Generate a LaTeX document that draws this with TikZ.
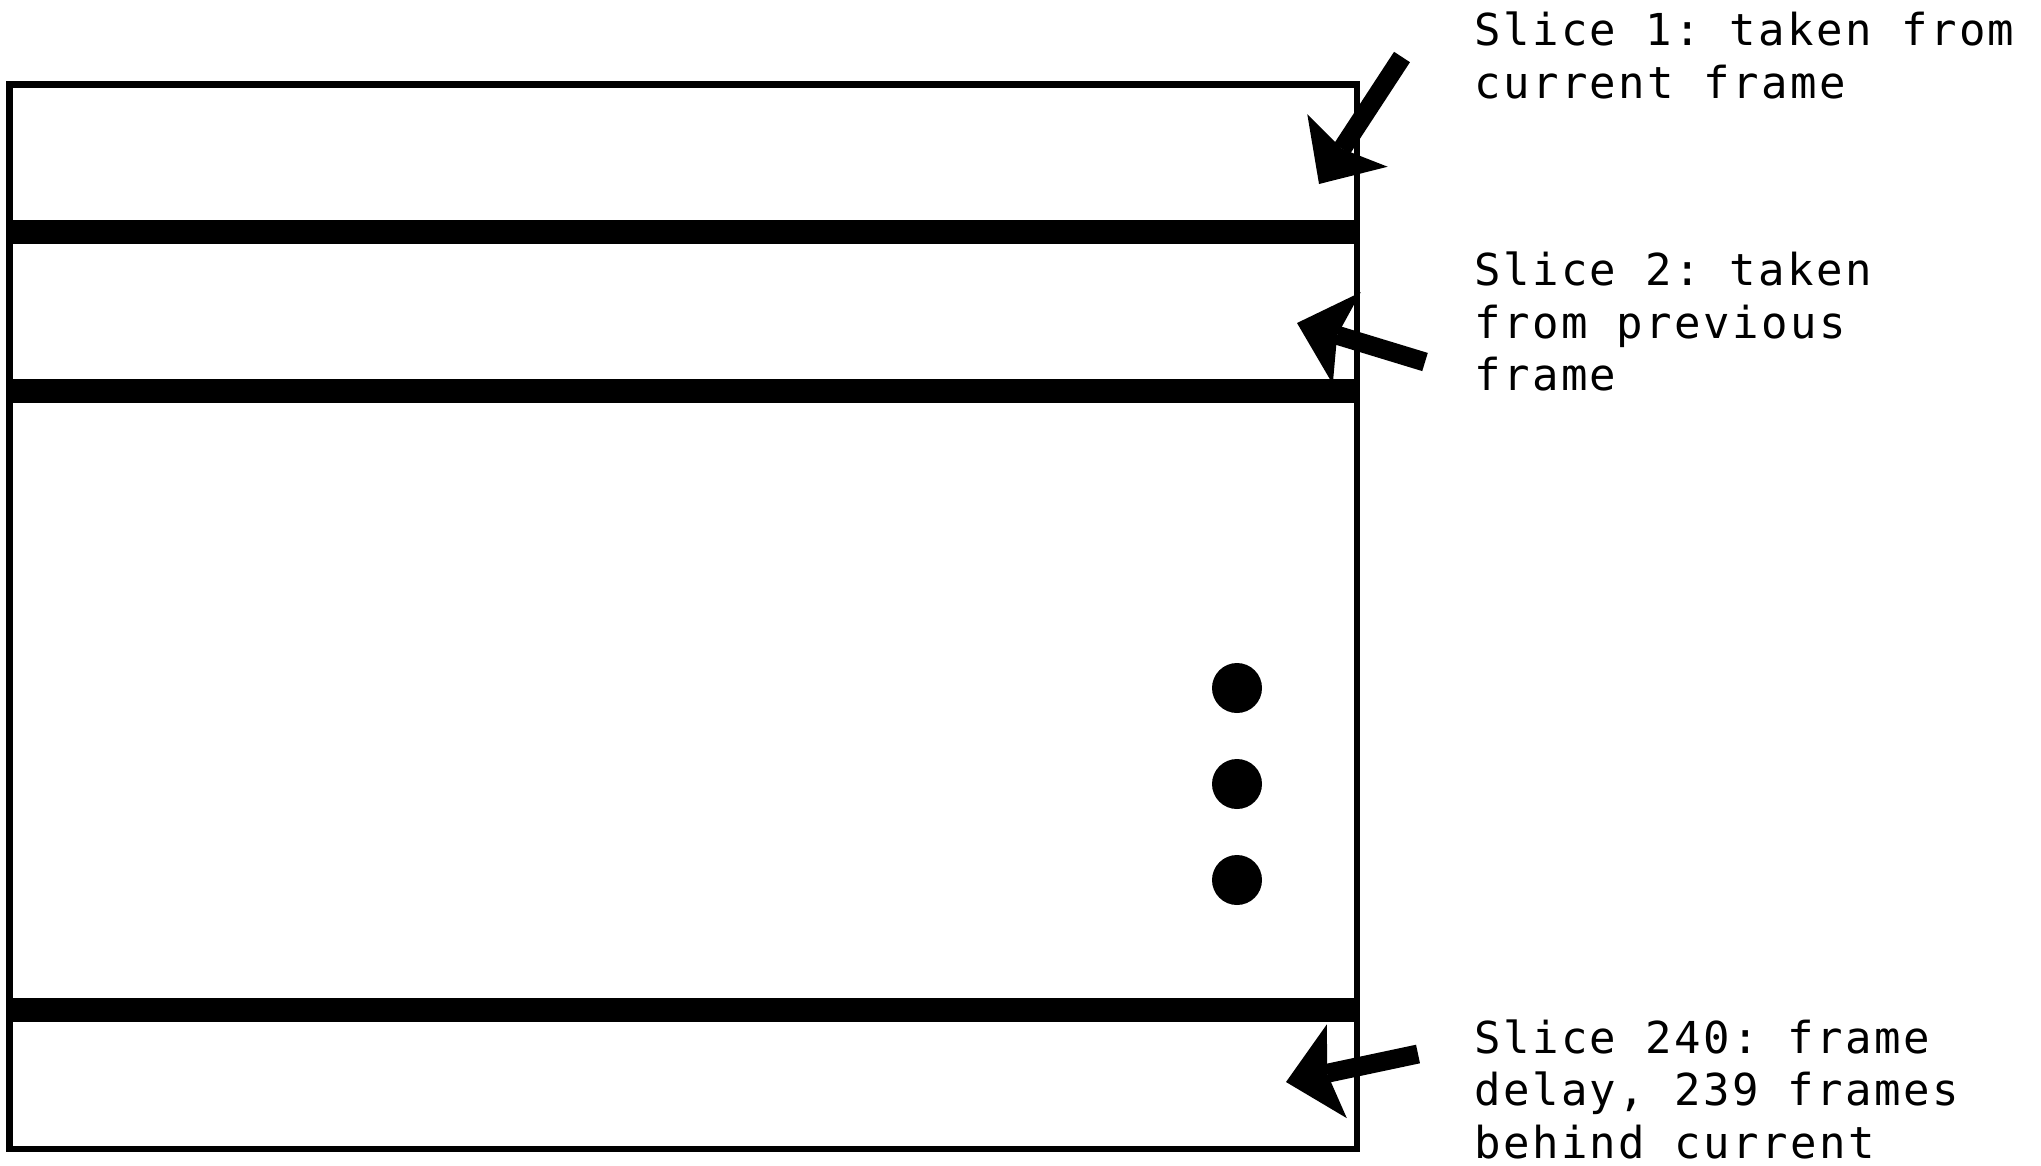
\documentclass[tikz,border=0pt]{standalone}
\usepackage{fontspec}
\setmonofont[LetterSpace=5.6]{DejaVu Sans Mono}
\usetikzlibrary{arrows.meta}
\begin{document}
\begin{tikzpicture}[x=1pt,y=-1pt,
  frameline/.style={line width=6.5pt},
  bar/.style={line width=24pt},
  dot/.style={fill=black},
  pointer/.style={line width=19pt,-{Stealth[length=52pt,width=96pt,inset=10pt,line width=0pt]}},
  label/.style={anchor=base west,inner sep=0pt,font=\fontsize{44}{53}\selectfont\ttfamily}]
\useasboundingbox (0,0) rectangle (2041,1165);
% frame
\draw[frameline] (9.5,84.5) rectangle (1357,1149);
\draw[bar] (9.5,232) -- (1357,232);
\draw[bar] (9.5,391) -- (1357,391);
\draw[bar] (9.5,1010) -- (1357,1010);
% dots
\fill[dot] (1237,688) circle (25);
\fill[dot] (1237,784) circle (25);
\fill[dot] (1237,880) circle (25);
% labels
\node[label] (s1a) at (1474,45.5) {Slice 1: taken from};
\node[label] (s1b) at (1474,98.5) {current frame};
\node[label] (s2a) at (1474,285.5) {Slice 2: taken};
\node[label] (s2b) at (1474,338) {from previous};
\node[label] (s2c) at (1474,390.5) {frame};
\node[label] (s3a) at (1474,1053) {Slice 240: frame};
\node[label] (s3b) at (1474,1105.5) {delay, 239 frames};
\node[label] (s3c) at (1474,1158) {behind current};
% arrows
\coordinate (t1) at (1402,57);
\coordinate (h1) at (1319,184);
\coordinate (t2) at (1425,362);
\coordinate (h2) at (1297,323);
\coordinate (t3) at (1418,1054);
\coordinate (h3) at (1286,1082);
\draw[pointer] (t1) -- (h1);
\draw[pointer] (t2) -- (h2);
\draw[pointer] (t3) -- (h3);
\end{tikzpicture}
\end{document}
